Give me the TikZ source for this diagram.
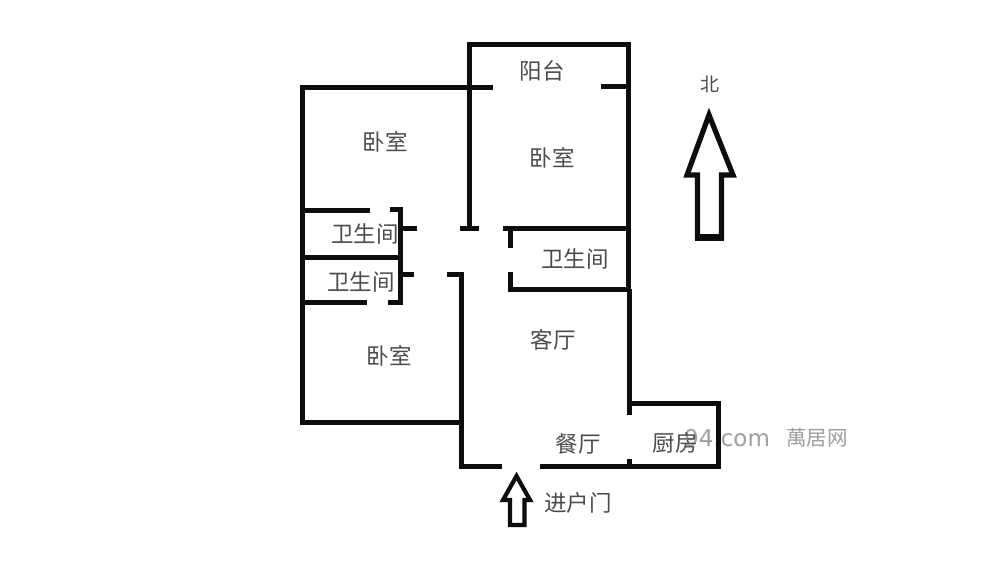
\documentclass[tikz,border=0pt]{standalone}
\usepackage{fontspec}
\setmainfont{Noto Sans CJK SC}
\newfontfamily\wmfont{DejaVu Sans}
\tikzset{
  wall/.style={line width=5pt,line cap=butt,line join=miter,draw=black!95},
  bigarrow/.style={line width=5.2pt,line join=miter,draw=black!95,fill=white},
  room/.style={inner sep=0pt,font=\fontsize{22.5}{22.5}\selectfont,text=black!70},
  wmark/.style={inner sep=0pt,anchor=west,text=black!38}
}
\begin{document}
\begin{tikzpicture}[x=1pt,y=-1pt]
\useasboundingbox (0,0) rectangle (1000,563);
\fill[white] (0,0) rectangle (1000,563);
% named corner points
\coordinate (balTL) at (469,44.5);
\coordinate (balTR) at (628,44.5);
\coordinate (outTL) at (302,87);
\coordinate (outBL) at (302,422);
\coordinate (wallL) at (461.5,422);
\coordinate (hallB) at (461.5,466);
\coordinate (kitTR) at (718,403);
\coordinate (kitBR) at (718,466);
\coordinate (kitTL) at (629,403);
% watermark
\node[wmark,font=\wmfont\fontsize{23}{23}\selectfont] (wm) at (684,438) {94.com};
\node[wmark,font=\fontsize{20.5}{20.5}\selectfont] (wm2) at (786,438) {萬居网};
% outer walls
\draw[wall] (493,87) -- (outTL) -- (outBL) -- (wallL);
\draw[wall] (469,228) -- (balTL) -- (balTR) -- (628,289);
\draw[wall] (601,86.5) -- (628,86.5);
\draw[wall] (460,228.5) -- (479,228.5);
\draw[wall] (503,228.5) -- (628,228.5);
\draw[wall] (510.5,228) -- (510.5,248);
\draw[wall] (510.5,272) -- (510.5,289.5) -- (631,289.5);
\draw[wall] (629,289) -- (629,415);
\draw[wall] (kitTL) -- (kitTR) -- (kitBR) -- (540,466);
\draw[wall] (629,459) -- (629,466);
\draw[wall] (502,466) -- (hallB) -- (461.5,274) -- (447,274);
% bath block
\draw[wall] (302,210) -- (370,210);
\draw[wall] (390,209.5) -- (400.5,209.5) -- (400.5,302) -- (388,302);
\draw[wall] (400,228.5) -- (417,228.5);
\draw[wall] (302,257) -- (400,257);
\draw[wall] (400,274) -- (414,274);
\draw[wall] (302,302) -- (367,302);
% arrows
\draw[bigarrow] (709,115) -- (733,175) -- (721.5,175) -- (721.5,237) -- (697.5,237) -- (697.5,175) -- (687,175) -- cycle;
\fill[black!95] (695,234) rectangle (724,241);
\draw[bigarrow,line width=4.2pt] (516.5,476) -- (530,500) -- (524.5,500) -- (524.5,525) -- (510,525) -- (510,500) -- (503,500) -- cycle;
% labels
\node[room] (l1) at (542,71) {阳台};
\node[room] (l2) at (385,142) {卧室};
\node[room] (l3) at (552,158) {卧室};
\node[room] (l4) at (365,234) {卫生间};
\node[room] (l5) at (575,259) {卫生间};
\node[room] (l6) at (361,282) {卫生间};
\node[room] (l7) at (553,340) {客厅};
\node[room] (l8) at (389,356) {卧室};
\node[room] (l9) at (578,444) {餐厅};
\node[room] (l10) at (675,443) {厨房};
\node[room] (l11) at (578,503) {进户门};
\node[room,font=\fontsize{19}{19}\selectfont] (l12) at (710,84) {北};
\end{tikzpicture}
\end{document}
